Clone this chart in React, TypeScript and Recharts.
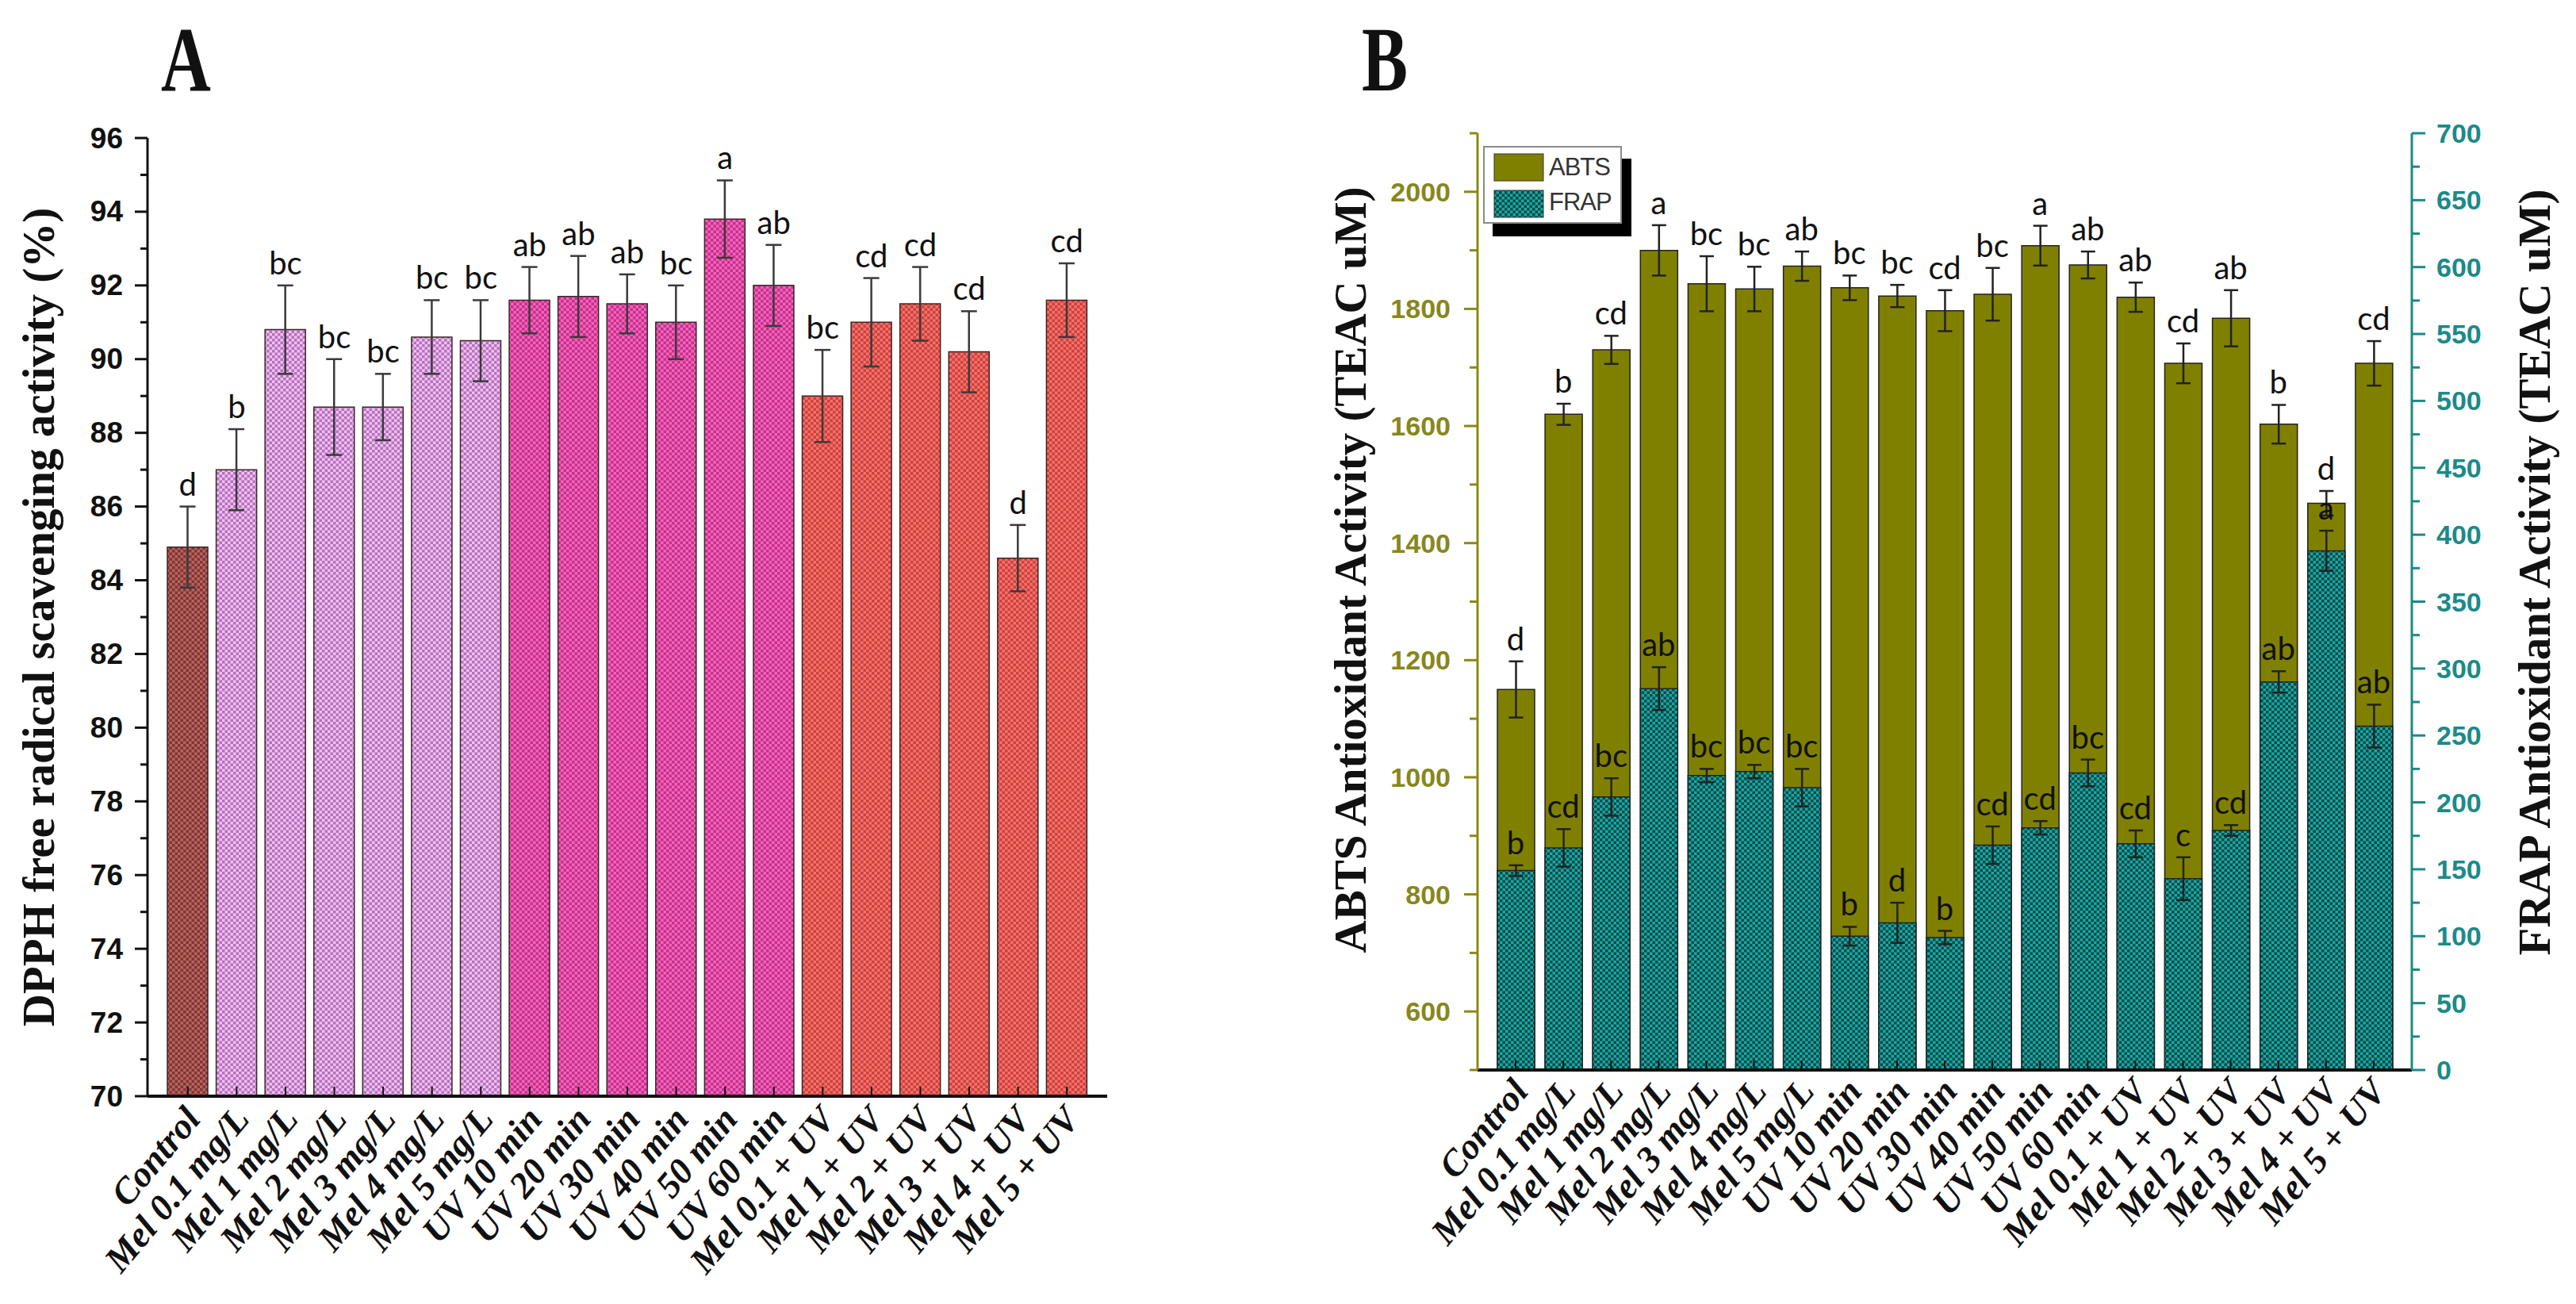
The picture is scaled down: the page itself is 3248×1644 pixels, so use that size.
import React from 'react';
import { ComposedChart, Bar, XAxis, YAxis, ErrorBar, Cell, Line, LabelList, Legend } from 'recharts';

// ---------- data ----------
const categories = [
  'Control', 'Mel 0.1 mg/L', 'Mel 1 mg/L', 'Mel 2 mg/L', 'Mel 3 mg/L', 'Mel 4 mg/L', 'Mel 5 mg/L',
  'UV 10 min', 'UV 20 min', 'UV 30 min', 'UV 40 min', 'UV 50 min', 'UV 60 min',
  'Mel 0.1 + UV', 'Mel 1 + UV', 'Mel 2 + UV', 'Mel 3 + UV', 'Mel 4 + UV', 'Mel 5 + UV',
];
const groups = [
  'control', 'mel', 'mel', 'mel', 'mel', 'mel', 'mel',
  'uv', 'uv', 'uv', 'uv', 'uv', 'uv',
  'meluv', 'meluv', 'meluv', 'meluv', 'meluv', 'meluv',
];

const dpphValues = [84.9, 87.0, 90.8, 88.7, 88.7, 90.6, 90.5, 91.6, 91.7, 91.5, 91.0, 93.8, 92.0, 89.0, 91.0, 91.5, 90.2, 84.6, 91.6];
const dpphErrors = [1.1, 1.1, 1.2, 1.3, 0.9, 1.0, 1.1, 0.9, 1.1, 0.8, 1.0, 1.05, 1.1, 1.25, 1.2, 1.0, 1.1, 0.9, 1.0];
const dpphLetters = ['d', 'b', 'bc', 'bc', 'bc', 'bc', 'bc', 'ab', 'ab', 'ab', 'bc', 'a', 'ab', 'bc', 'cd', 'cd', 'cd', 'd', 'cd'];

const abtsValues = [1150, 1620, 1730, 1900, 1843, 1834, 1873, 1836, 1822, 1797, 1825, 1908, 1875, 1820, 1707, 1784, 1603, 1468, 1707];
const abtsErrors = [48, 18, 24, 43, 47, 38, 25, 21, 19, 35, 45, 34, 23, 25, 34, 48, 33, 21, 38];
const abtsLetters = ['d', 'b', 'cd', 'a', 'bc', 'bc', 'ab', 'bc', 'bc', 'cd', 'bc', 'a', 'ab', 'ab', 'cd', 'ab', 'b', 'd', 'cd'];

const frapValues = [149, 166, 204, 285, 220, 223, 211, 100, 110, 99, 168, 181, 222, 169, 143, 179, 290, 388, 257];
const frapErrors = [4, 14, 14, 16, 5, 5, 14, 7, 15, 5, 14, 5, 10, 10, 16, 4, 8, 15, 16];
const frapLetters = ['b', 'cd', 'bc', 'ab', 'bc', 'bc', 'bc', 'b', 'd', 'b', 'cd', 'cd', 'bc', 'cd', 'c', 'cd', 'ab', 'a', 'ab'];

const dpphTicks = [70, 71, 72, 73, 74, 75, 76, 77, 78, 79, 80, 81, 82, 83, 84, 85, 86, 87, 88, 89, 90, 91, 92, 93, 94, 95, 96];
const abtsTicks = [500, 600, 700, 800, 900, 1000, 1100, 1200, 1300, 1400, 1500, 1600, 1700, 1800, 1900, 2000, 2100];
const frapTicks = [0, 25, 50, 75, 100, 125, 150, 175, 200, 225, 250, 275, 300, 325, 350, 375, 400, 425, 450, 475, 500, 525, 550, 575, 600, 625, 650, 675, 700];

const dpphData = categories.map((name, i) => ({
  name, group: groups[i], value: dpphValues[i], err: dpphErrors[i], letter: dpphLetters[i],
}));
const abData = categories.map((name, i) => ({
  name,
  abts: abtsValues[i], abtsErr: abtsErrors[i], abtsLetter: abtsLetters[i],
  frap: frapValues[i], frapErr: frapErrors[i], frapLetter: frapLetters[i],
}));

// ---------- styles ----------
const SERIF = '"Liberation Serif", "DejaVu Serif", "Times New Roman", serif';
const SANS = '"Liberation Sans", Arial, sans-serif';
const LETTER = 'Lato, "Open Sans", sans-serif';
const OLIVE = '#808000';
const OLIVE_TXT = '#87871c';
const TEAL = '#1b8a8a';

const groupFill: Record<string, string> = {
  control: 'url(#pControl)',
  mel: 'url(#pMel)',
  uv: 'url(#pUV)',
  meluv: 'url(#pMelUV)',
};

const Checker = ({ id, base, dark, size = 7 }: any) => (
  <pattern id={id} width={size} height={size} patternUnits="userSpaceOnUse">
    <rect width={size} height={size} fill={base} />
    <rect width={size / 2} height={size / 2} fill={dark} />
    <rect x={size / 2} y={size / 2} width={size / 2} height={size / 2} fill={dark} />
  </pattern>
);

// ---------- custom renderers ----------
const XTick = (props: any) => {
  const { x, y, payload, lift = 20 } = props;
  const axisY = y - lift;
  return (
    <g>
      <line x1={x} x2={x} y1={axisY} y2={axisY - 12} stroke="#111" strokeWidth={2} />
      <text
        x={x + 6}
        y={y}
        transform={`rotate(-50 ${x + 6} ${y})`}
        textAnchor="end"
        dominantBaseline="central"
        fontFamily={SERIF}
        fontWeight="bold"
        fontStyle="italic"
        fontSize={46}
        fill="#111"
      >
        {payload.value}
      </text>
    </g>
  );
};

const YTick = (props: any) => {
  const { x, y, payload, side, majorStep, minLabel, maxLabel, tc, fsz, majorLen, minorLen, gap, lc } = props;
  const v = payload.value;
  const isMajor = v % majorStep === 0 && v >= minLabel && v <= maxLabel;
  const dir = side === 'left' ? -1 : 1;
  const len = isMajor ? majorLen : minorLen;
  return (
    <g>
      <line x1={x} x2={x + dir * len} y1={y} y2={y} stroke={lc} strokeWidth={3} />
      {isMajor && (
        <text
          x={x + dir * gap}
          y={y}
          textAnchor={side === 'left' ? 'end' : 'start'}
          dominantBaseline="central"
          fontFamily={SANS}
          fontWeight="bold"
          fontSize={fsz}
          fill={tc}
        >
          {v}
        </text>
      )}
    </g>
  );
};

const AxisTitle = (props: any) => {
  const { viewBox, text, side, dist, shift = 0 } = props;
  const { x, y, width, height } = viewBox;
  const cx = side === 'left' ? x + width - dist : x + dist;
  const cy = y + height / 2 + shift;
  return (
    <text
      x={cx}
      y={cy}
      transform={`rotate(-90 ${cx} ${cy})`}
      textAnchor="middle"
      dominantBaseline="central"
      fontFamily={SERIF}
      fontWeight="bold"
      fontSize={57}
      fill="#111"
    >
      {text}
    </text>
  );
};

const LetterLabel = (props: any) => {
  const { x, y, value } = props;
  if (value == null || x == null || y == null) return null;
  return (
    <text x={x} y={y - 14} textAnchor="middle" fontFamily={LETTER} fontSize={40} fill="#111">
      {value}
    </text>
  );
};

const LegendBox = () => (
  <div
    style={{
      position: 'relative',
      width: 175,
      height: 98,
      boxSizing: 'border-box',
      border: '2px solid #8a8a8a',
      background: '#fff',
      boxShadow: '12px 16px 0 #000',
      fontFamily: SANS,
      fontSize: 31,
      color: '#333',
    }}
  >
    <svg width={66} height={88} style={{ position: 'absolute', left: 11, top: 6 }}>
      <defs>
        <Checker id="pFrapLegend" base="#18a8a4" dark="#0a4a48" />
      </defs>
      <rect x={1} y={2} width={62} height={34} fill={OLIVE} stroke="#333" strokeWidth={1} />
      <rect x={1} y={48} width={62} height={34} fill="url(#pFrapLegend)" stroke="#333" strokeWidth={1} />
    </svg>
    <div style={{ position: 'absolute', left: 81, top: 6, lineHeight: '38px', letterSpacing: -1 }}>ABTS</div>
    <div style={{ position: 'absolute', left: 81, top: 50, lineHeight: '38px', letterSpacing: -1 }}>FRAP</div>
  </div>
);

// ---------- charts ----------
const ChartA = () => (
  <ComposedChart width={1450} height={1644} data={dpphData} margin={{ top: 174, right: 54, bottom: 0, left: 0 }} barSize={51}>
    <defs>
      <Checker id="pControl" base="#b86460" dark="#7e3632" />
      <Checker id="pMel" base="#f2bef2" dark="#b272bc" />
      <Checker id="pUV" base="#f862ba" dark="#c0328c" />
      <Checker id="pMelUV" base="#f8706a" dark="#c8423e" />
    </defs>
    <XAxis
      dataKey="name"
      height={262}
      padding={{ left: 20, right: 20 }}
      interval={0}
      tickSize={0}
      tickMargin={20}
      tickLine={false}
      axisLine={{ stroke: '#111', strokeWidth: 4 }}
      tick={<XTick lift={20} />}
    />
    <XAxis
      xAxisId="top"
      orientation="top"
      dataKey="name"
      height={0}
      padding={{ left: 20, right: 20 }}
      tick={false}
      tickLine={false}
      axisLine={{ stroke: '#111', strokeWidth: 4 }}
    />
    <YAxis
      type="number"
      domain={[70, 96]}
      ticks={dpphTicks}
      interval={0}
      allowDataOverflow
      width={186}
      tickSize={0}
      tickMargin={0}
      tickLine={false}
      axisLine={{ stroke: '#111', strokeWidth: 3 }}
      tick={<YTick side="left" majorStep={2} minLabel={70} maxLabel={96} tc="#111" lc="#111" fsz={37} majorLen={16} minorLen={9} gap={31} />}
      label={(p: any) => <AxisTitle {...p} text="DPPH free radical scavenging activity (%)" side="left" dist={138} />}
    />
    <YAxis
      yAxisId="frame"
      orientation="right"
      type="number"
      domain={[70, 96]}
      width={0}
      tick={false}
      tickLine={false}
      axisLine={{ stroke: '#111', strokeWidth: 3 }}
    />
    <Bar dataKey="value" isAnimationActive={false} stroke="#3a2626" strokeWidth={1.5}>
      {dpphData.map((d, i) => (
        <Cell key={`c${i}`} fill={groupFill[d.group]} />
      ))}
      <ErrorBar dataKey="err" width={10} stroke="#3a3a3a" strokeWidth={2.5} direction="y" />
    </Bar>
    <Line
      dataKey={(d: any) => d.value + d.err}
      stroke="none"
      dot={false}
      activeDot={false}
      legendType="none"
      isAnimationActive={false}
    >
      <LabelList dataKey="letter" content={<LetterLabel />} />
    </Line>
  </ComposedChart>
);

const ChartB = () => (
  <ComposedChart
    width={1798}
    height={1644}
    data={abData}
    margin={{ top: 168, right: 0, bottom: 0, left: 0 }}
    barSize={47}
    barGap={-47}
  >
    <defs>
      <Checker id="pFrap" base="#18a8a4" dark="#0a4a48" />
    </defs>
    <XAxis
      dataKey="name"
      height={295}
      padding={{ left: 18, right: 18 }}
      interval={0}
      tickSize={0}
      tickMargin={18}
      tickLine={false}
      axisLine={{ stroke: '#111', strokeWidth: 4 }}
      tick={<XTick lift={18} />}
    />
    <XAxis
      xAxisId="top"
      orientation="top"
      dataKey="name"
      height={0}
      padding={{ left: 18, right: 18 }}
      tick={false}
      tickLine={false}
      axisLine={{ stroke: '#222', strokeWidth: 4 }}
    />
    <YAxis
      yAxisId="left"
      type="number"
      domain={[500, 2100]}
      ticks={abtsTicks}
      interval={0}
      allowDataOverflow
      width={413}
      tickSize={0}
      tickMargin={0}
      tickLine={false}
      axisLine={{ stroke: '#8a8a12', strokeWidth: 3 }}
      tick={<YTick side="left" majorStep={200} minLabel={600} maxLabel={2000} tc={OLIVE_TXT} lc="#8a8a12" fsz={34} majorLen={17} minorLen={10} gap={34} />}
      label={(p: any) => <AxisTitle {...p} text="ABTS Antioxidant Activity (TEAC uM)" side="left" dist={161} shift={-40} />}
    />
    <YAxis
      yAxisId="right"
      orientation="right"
      type="number"
      domain={[0, 700]}
      ticks={frapTicks}
      interval={0}
      allowDataOverflow
      width={207}
      tickSize={0}
      tickMargin={0}
      tickLine={false}
      axisLine={{ stroke: TEAL, strokeWidth: 3 }}
      tick={<YTick side="right" majorStep={50} minLabel={0} maxLabel={700} tc={TEAL} lc={TEAL} fsz={34} majorLen={17} minorLen={10} gap={31} />}
      label={(p: any) => <AxisTitle {...p} text="FRAP Antioxidant Activity (TEAC uM)" side="right" dist={154} shift={-37} />}
    />
    <Bar yAxisId="left" dataKey="abts" fill={OLIVE} stroke="#222" strokeWidth={1.5} isAnimationActive={false}>
      <ErrorBar dataKey="abtsErr" width={9} stroke="#222" strokeWidth={2.5} direction="y" />
    </Bar>
    <Bar yAxisId="right" dataKey="frap" fill="url(#pFrap)" stroke="#222" strokeWidth={1.5} isAnimationActive={false}>
      <ErrorBar dataKey="frapErr" width={9} stroke="#222" strokeWidth={2.5} direction="y" />
    </Bar>
    <Line
      yAxisId="left"
      dataKey={(d: any) => d.abts + d.abtsErr}
      stroke="none"
      dot={false}
      activeDot={false}
      legendType="none"
      isAnimationActive={false}
    >
      <LabelList dataKey="abtsLetter" content={<LetterLabel />} />
    </Line>
    <Line
      yAxisId="right"
      dataKey={(d: any) => d.frap + d.frapErr}
      stroke="none"
      dot={false}
      activeDot={false}
      legendType="none"
      isAnimationActive={false}
    >
      <LabelList dataKey="frapLetter" content={<LetterLabel />} />
    </Line>
    <Legend
      layout="horizontal"
      verticalAlign="middle"
      align="center"
      content={<LegendBox />}
      wrapperStyle={{ left: 420, top: 184, width: 'auto', height: 'auto' }}
    />
  </ComposedChart>
);

export default function App() {
  return (
    <div style={{ position: 'absolute', left: 0, top: 0, width: 3248, height: 1644, background: '#fff', overflow: 'hidden' }}>
      <div style={{ position: 'absolute', left: 0, top: 0 }}>
        <ChartA />
      </div>
      <div style={{ position: 'absolute', left: 1450, top: 0 }}>
        <ChartB />
      </div>
      <svg width={3248} height={1644} style={{ position: 'absolute', left: 0, top: 0, pointerEvents: 'none' }}>
        <text transform="translate(203,114) scale(0.75,1)" fontFamily={SERIF} fontWeight="bold" fontSize={116} fill="#111">
          A
        </text>
        <text transform="translate(1717,114) scale(0.75,1)" fontFamily={SERIF} fontWeight="bold" fontSize={116} fill="#111">
          B
        </text>
      </svg>
    </div>
  );
}
